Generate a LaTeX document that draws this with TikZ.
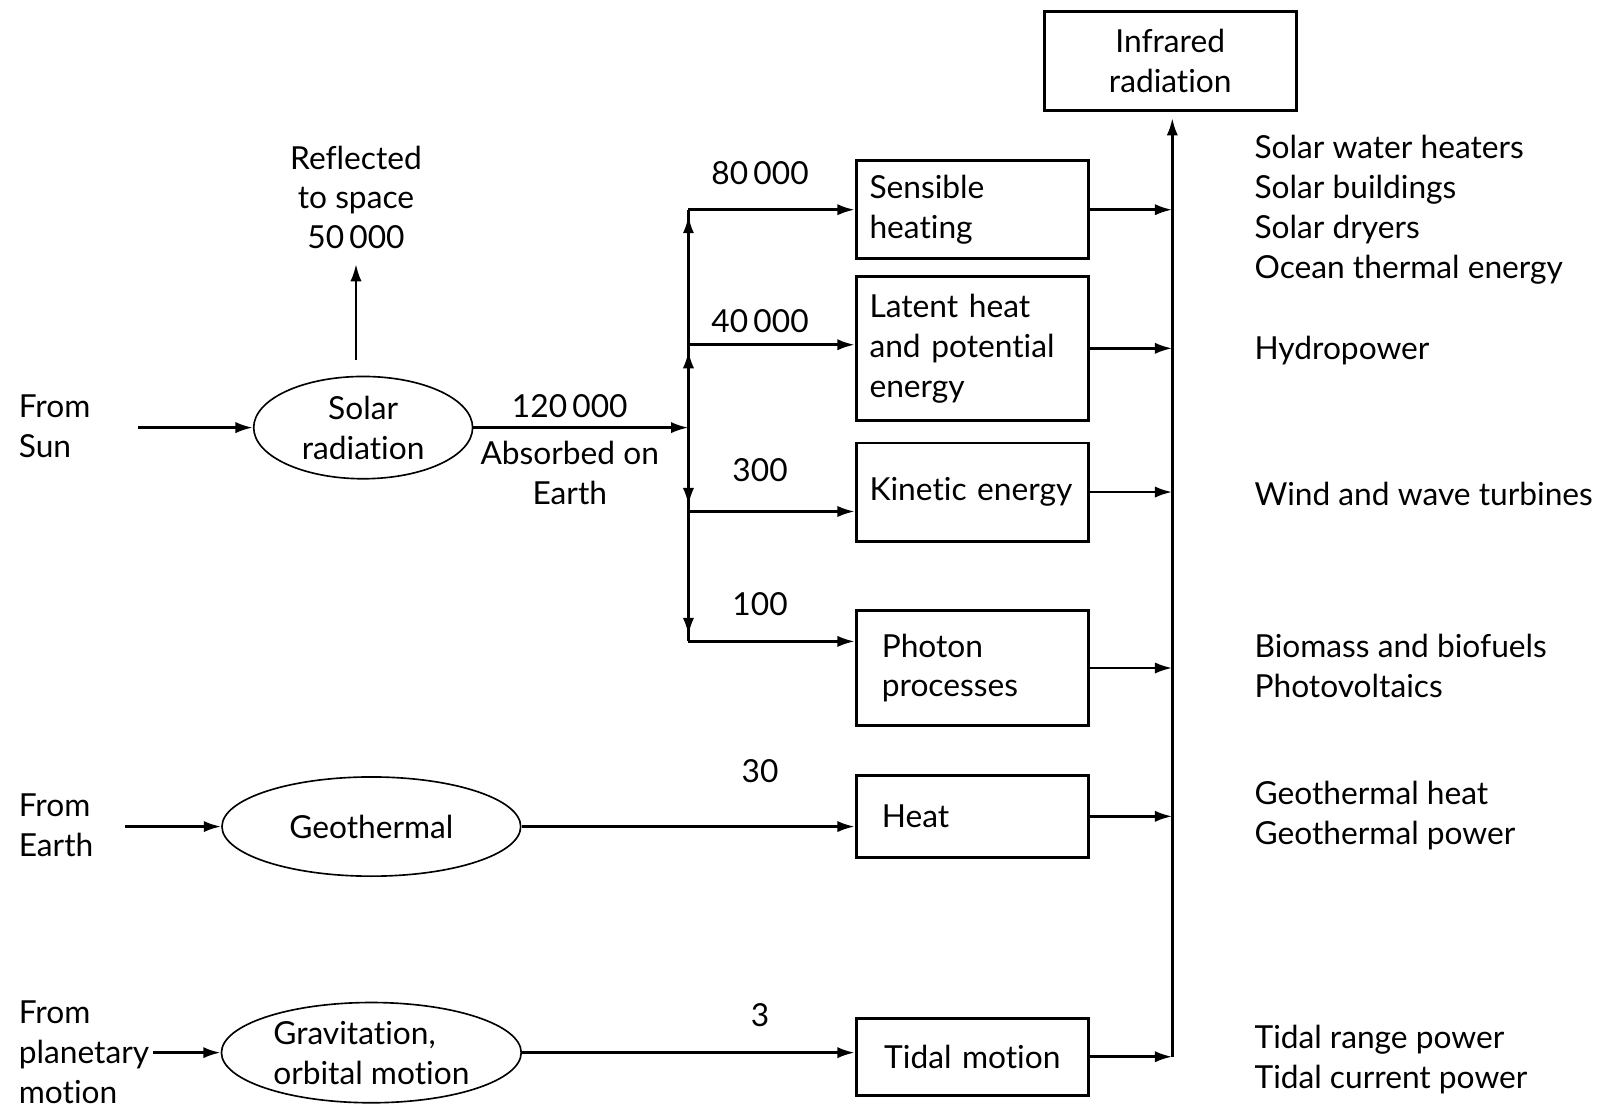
\documentclass[tikz,border=0pt]{standalone}
\usepackage{fontspec}
\setmainfont{Lato}[Ligatures=NoCommon]
\usepackage{tikz}
\usetikzlibrary{shapes.geometric,arrows.meta}

\begin{document}
\begin{tikzpicture}[x=0.5pt,y=-0.5pt,
	font=\fontsize{15.5}{19.5}\selectfont,
	arr/.style={line width=1.3pt,-{Latex[length=8.5pt,width=5.5pt]}},
	box/.style={draw,line width=1.4pt,text width=100.5pt,%
		inner xsep=6.5pt,inner ysep=0pt,align=left},
	wide/.style={box,inner xsep=12.5pt,text width=88.5pt},
	oval/.style={draw,ellipse,line width=0.8pt,inner sep=0pt,align=center},
	txt/.style={inner sep=0pt,align=left,anchor=west}
	]
	\useasboundingbox (0,0) rectangle (1568,1089);

	\node[box,text width=110pt,align=center,minimum height=48.5pt] (ir) at (1144,59.5) {Infrared\\radiation};

	\node[txt] (sun) at (18,417) {From\\Sun};
	\node[txt] (earth) at (18,807) {From\\Earth};
	\node[txt] (planet) at (18,1029) {From\\planetary\\motion};

	\node[oval,minimum width=107pt,minimum height=50pt] (solar) at (355,418) {Solar\\radiation};
	\node[oval,minimum width=146pt,minimum height=48.5pt] (geo) at (363,808) {Geothermal};
	\node[oval,minimum width=146.5pt,minimum height=49pt,align=left] (grav) at (363,1029) {Gravitation,\\orbital motion};

	\node[align=center] (refl) at (348,193) {Reflected\\to space\\50\,000};
	\node (abs) at (557,397) {120\,000};
	\node[align=center] (absearth) at (557,462) {Absorbed on\\Earth};

	\node (n1) at (743,169) {80\,000};
	\node (n2) at (743,314) {40\,000};
	\node (n3) at (743,460) {300};
	\node (n4) at (743,591) {100};
	\node (n5) at (743,754) {30};
	\node (n6) at (743,992) {3};

	\node[box,minimum height=48pt] (sens) at (950.5,205) {Sensible\\heating};
	\node[box,minimum height=70.5pt] (lat) at (950.5,340.5) {Latent heat\\and potential\\energy};
	\node[box,minimum height=48pt] (kin) at (950.5,481) {Kinetic energy};
	\node[wide,minimum height=56pt] (phot) at (950.5,653) {Photon\\processes};
	\node[wide,minimum height=40pt] (heat) at (950.5,798) {Heat};
	\node[box,minimum height=37.5pt,align=center] (tidal) at (950.5,1033) {Tidal motion};

	\node[txt] (use1) at (1226,205) {Solar water heaters\\Solar buildings\\Solar dryers\\Ocean thermal energy};
	\node[txt] (use2) at (1226,343) {Hydropower};
	\node[txt] (use3) at (1226,483) {Wind and wave turbines};
	\node[txt] (use4) at (1226,651) {Biomass and biofuels\\Photovoltaics};
	\node[txt] (use5) at (1226,797) {Geothermal heat\\Geothermal power};
	\node[txt] (use6) at (1226,1036) {Tidal range power\\Tidal current power};

	\coordinate (s0) at (135,418);
	\coordinate (e0) at (122,808);
	\coordinate (p0) at (150,1029);
	\coordinate (r0) at (348,352);
	\coordinate (r1) at (348,258);
	\coordinate (j) at (673,418);
	\coordinate (b1) at (673,205);
	\coordinate (b2) at (673,337);
	\coordinate (b3) at (673,500);
	\coordinate (b4) at (673,627);
	\coordinate (top) at (1146,115);

	\draw[arr] (s0) -- (solar.west);
	\draw[arr] (e0) -- (geo.west);
	\draw[arr] (p0) -- (grav.west);
	\draw[arr] (r0) -- (r1);
	\draw[arr] (solar.east) -- (j);

	\draw[line width=1.3pt] (b1) -- (b4);
	\draw[arr,shorten >=3pt] (j) -- (b2);
	\draw[arr,shorten >=3pt] (b2) -- (b1);
	\draw[arr,shorten >=3pt] (j) -- (b3);
	\draw[arr,shorten >=3pt] (b3) -- (b4);

	\draw[arr] (b1) -- (b1 -| sens.west);
	\draw[arr] (b2) -- (b2 -| lat.west);
	\draw[arr] (b3) -- (b3 -| kin.west);
	\draw[arr] (b4) -- (b4 -| phot.west);
	\draw[arr] (geo.east) -- (geo.east -| heat.west);
	\draw[arr] (grav.east) -- (grav.east -| tidal.west);

	\foreach \n in {sens,lat,kin,phot,heat,tidal}
		\draw[arr] (\n.east) -- (\n.east -| top);
	\draw[arr,shorten >=3pt] (tidal.east -| top) -- (ir.south -| top);
\end{tikzpicture}
\end{document}
